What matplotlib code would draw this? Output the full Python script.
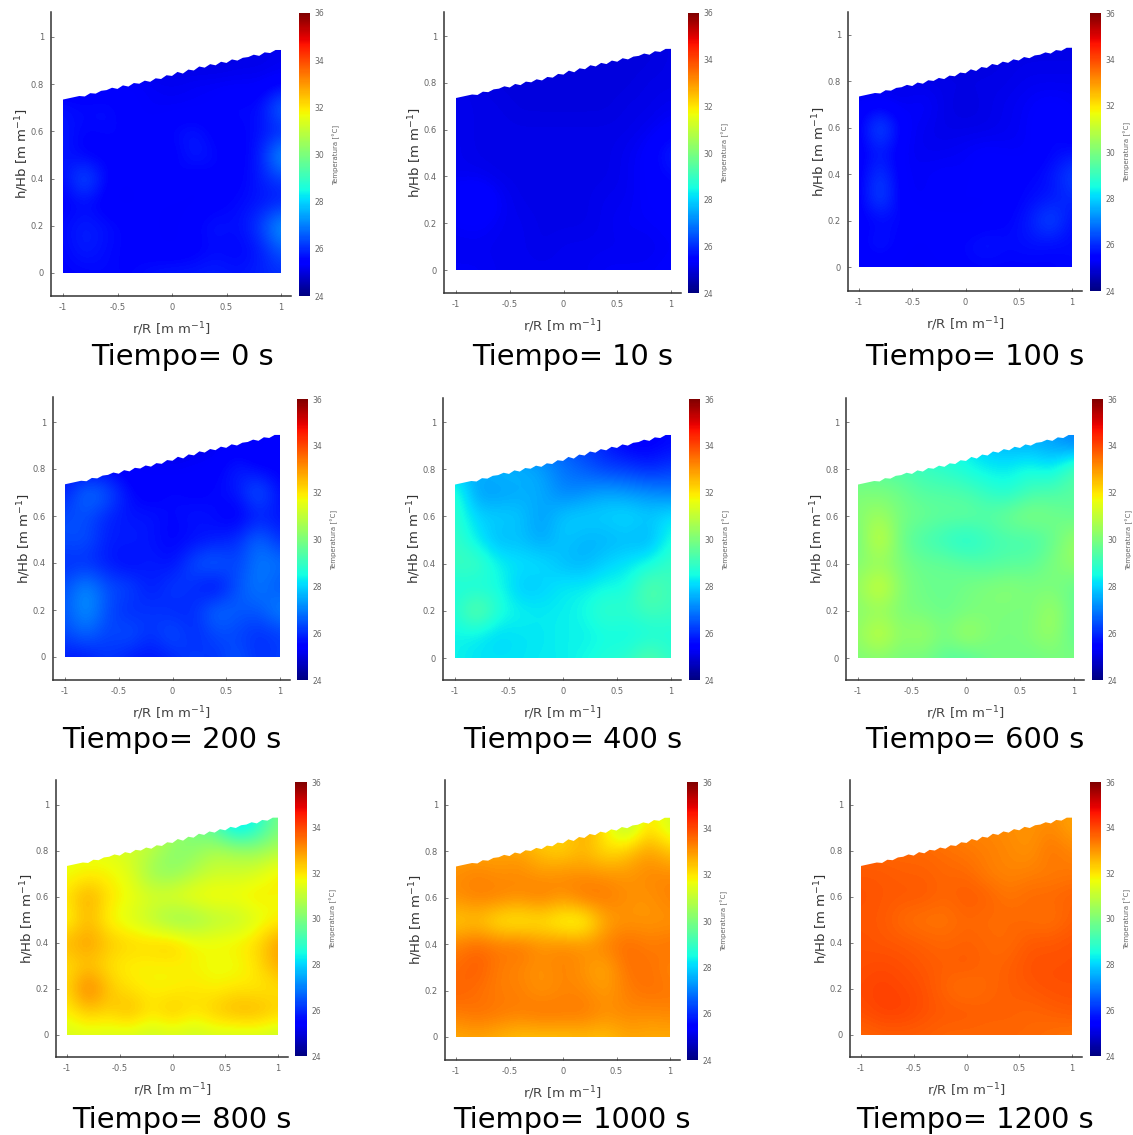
#!/usr/bin/env python3
# temperature maps h/Hb vs r/R at nine times
import numpy as np
import matplotlib
matplotlib.use('Agg')
import matplotlib.pyplot as plt
from matplotlib.path import Path
from matplotlib.patches import PathPatch

W, H = 1133, 1135

times = [0, 10, 100, 200, 400, 600, 800, 1000, 1200]

# columns r/R = -1 ... 1 step 0.2, rows h/Hb = 0.9 ... 0 step -0.1
r_grid = [-1, -0.8, -0.6, -0.4, -0.2, 0, 0.2, 0.4, 0.6, 0.8, 1]
h_grid = [0.9, 0.8, 0.7, 0.6, 0.5, 0.4, 0.3, 0.2, 0.1, 0.0]

# top edge of the measured area, a bit rough
r_edge = [-1, -0.95, -0.9, -0.85, -0.8, -0.75, -0.7, -0.65, -0.6, -0.55, -0.5, -0.45, -0.4, -0.35, -0.3, -0.25, -0.2, -0.15, -0.1, -0.05, 0,
          0.05, 0.1, 0.15, 0.2, 0.25, 0.3, 0.35, 0.4, 0.45, 0.5, 0.55, 0.6, 0.65, 0.7, 0.75, 0.8, 0.85, 0.9, 0.95, 1]
h_edge = [0.735, 0.74, 0.745, 0.75, 0.748, 0.762, 0.76, 0.772, 0.775, 0.785, 0.78, 0.795, 0.79, 0.805, 0.802, 0.815, 0.81, 0.825, 0.822, 0.838, 0.835,
          0.852, 0.845, 0.862, 0.858, 0.875, 0.87, 0.885, 0.88, 0.895, 0.89, 0.905, 0.9, 0.912, 0.915, 0.925, 0.92, 0.935, 0.932, 0.945, 0.945]

t0 = [
 [25.0,25.0,25.0,25.0,25.0,25.0,25.0,25.0,25.1,25.1,25.2],
 [25.3,25.3,25.3,25.4,25.3,25.2,25.3,25.3,25.3,25.3,25.4],
 [25.7,25.6,25.7,25.4,25.3,25.3,25.3,25.4,25.7,25.5,27.0],
 [25.8,25.5,25.6,25.5,25.4,25.6,25.8,25.4,25.4,25.7,25.8],
 [25.8,25.4,25.4,25.6,25.6,25.3,25.9,25.6,25.4,25.7,27.6],
 [25.5,26.8,25.5,25.3,25.5,25.7,25.3,25.5,25.4,25.8,26.2],
 [25.4,25.6,25.3,25.3,25.4,25.3,25.3,25.4,25.6,25.7,25.8],
 [25.6,25.9,25.7,25.5,25.4,25.3,25.5,25.8,25.6,26.2,27.6],
 [25.5,25.9,25.6,25.5,25.4,25.3,25.4,25.6,25.5,25.7,26.6],
 [25.5,25.5,25.6,25.5,25.7,25.8,25.8,25.9,25.7,25.9,26.0],
]
t10 = [
 [25.0,25.0,25.0,25.0,25.0,25.0,25.0,25.0,25.0,25.0,25.1],
 [25.1,25.1,25.0,25.0,25.0,25.0,25.0,25.0,25.0,25.1,25.1],
 [25.2,25.1,25.1,25.0,25.0,25.0,25.0,25.0,25.1,25.1,25.2],
 [25.2,25.1,25.1,25.1,25.1,25.1,25.1,25.1,25.1,25.2,25.4],
 [25.2,25.1,25.1,25.1,25.1,25.1,25.1,25.1,25.2,25.4,25.9],
 [25.2,25.2,25.1,25.1,25.1,25.1,25.1,25.1,25.2,25.4,25.6],
 [25.5,25.8,25.3,25.1,25.1,25.1,25.1,25.2,25.2,25.4,25.4],
 [25.3,25.4,25.2,25.2,25.1,25.1,25.1,25.2,25.3,25.3,25.4],
 [25.2,25.2,25.2,25.2,25.1,25.2,25.2,25.2,25.2,25.2,25.3],
 [25.3,25.3,25.2,25.2,25.2,25.2,25.2,25.3,25.3,25.3,25.4],
]
t100 = [
 [25.0,25.0,25.0,25.0,25.0,25.0,25.0,25.1,25.1,25.1,25.1],
 [25.2,25.2,25.1,25.1,25.1,25.1,25.1,25.1,25.2,25.2,25.2],
 [25.3,25.3,25.2,25.4,25.1,25.0,25.1,25.2,25.3,25.4,25.3],
 [25.3,26.8,25.4,25.2,25.1,25.1,25.1,25.2,25.3,25.7,25.3],
 [25.3,25.8,25.3,25.2,25.2,25.3,25.4,25.3,25.3,25.5,25.6],
 [25.3,26.3,25.3,25.3,25.4,25.3,25.5,25.5,25.5,25.7,26.4],
 [25.3,26.6,25.3,25.3,25.3,25.4,25.3,25.4,25.6,25.7,26.0],
 [25.4,25.5,25.6,25.4,25.4,25.3,25.4,25.5,25.8,26.6,25.6],
 [25.4,25.9,25.4,25.3,25.5,25.6,25.8,25.6,25.7,25.6,25.6],
 [25.3,25.3,25.3,25.3,25.3,25.5,25.5,25.5,25.5,25.5,25.6],
]
t200 = [
 [25.2,25.2,25.2,25.2,25.2,25.2,25.1,25.2,25.4,25.2,25.6],
 [25.7,25.5,25.5,25.3,25.4,25.2,25.4,25.4,25.9,25.5,25.4],
 [25.8,27.0,26.6,25.6,25.3,25.7,25.4,25.6,25.7,26.8,25.6],
 [26.4,26.4,25.9,25.7,25.8,25.5,25.8,25.6,25.3,25.8,25.7],
 [26.4,26.5,25.8,25.9,25.7,25.5,25.6,25.8,26.0,26.9,26.0],
 [26.0,26.0,25.8,25.5,25.9,25.6,26.5,26.8,26.2,27.0,26.9],
 [26.4,27.3,26.4,26.4,25.7,26.3,26.0,25.4,26.5,27.0,26.4],
 [26.5,27.4,26.4,25.9,26.2,25.9,26.0,26.9,26.6,26.5,27.2],
 [26.3,26.8,26.2,26.6,26.0,26.6,25.9,26.4,26.3,26.0,26.2],
 [25.8,25.7,26.2,25.8,25.7,25.9,26.3,26.0,26.6,26.0,26.3],
]
t400 = [
 [26.8,26.8,26.8,26.8,26.8,26.5,26.2,25.8,25.4,25.4,25.6],
 [27.8,27.6,27.8,27.7,27.4,26.9,26.6,26.2,26.2,25.9,26.2],
 [28.9,27.3,27.3,27.5,27.6,27.0,27.2,27.5,27.3,27.2,27.0],
 [28.9,28.0,28.0,27.9,27.3,27.9,28.0,28.0,28.2,27.9,28.2],
 [29.0,28.3,27.6,27.8,27.4,27.9,27.6,27.6,27.7,27.5,28.6],
 [29.0,29.2,28.4,28.2,28.2,27.7,27.6,28.0,28.2,28.5,29.0],
 [28.6,28.4,28.6,27.8,27.9,28.3,28.3,28.5,28.5,29.6,29.0],
 [28.6,29.9,28.7,28.4,28.3,28.3,28.5,29.0,28.8,29.2,29.0],
 [28.4,28.3,28.0,28.2,28.2,28.4,28.3,28.5,28.4,28.5,28.6],
 [28.4,28.2,28.2,28.2,28.3,28.3,28.5,28.7,28.8,29.6,28.8],
]
t600 = [
 [28.8,28.8,28.8,28.6,28.6,28.3,27.8,27.6,27.6,27.4,27.0],
 [29.6,29.4,29.3,29.0,28.8,28.5,28.3,28.3,28.6,28.2,29.4],
 [30.0,30.0,29.8,29.4,29.4,29.3,28.9,28.6,29.2,29.3,29.5],
 [30.1,30.6,29.9,29.8,29.6,29.7,29.5,29.9,30.2,29.9,29.6],
 [29.7,31.4,29.7,29.2,28.9,28.5,29.0,29.2,29.1,29.6,30.5],
 [30.1,30.3,30.0,29.7,29.7,29.5,29.3,29.5,29.5,30.0,30.4],
 [30.3,31.5,30.1,29.8,29.7,29.9,30.1,30.2,30.0,30.0,29.6],
 [30.1,30.3,30.0,29.9,29.7,29.9,30.0,30.0,29.9,30.6,29.6],
 [30.3,31.3,30.2,30.6,29.9,30.7,30.1,29.9,30.1,30.5,29.5],
 [30.0,30.1,29.9,29.9,29.5,29.3,29.8,29.9,29.8,29.9,30.0],
]
t800 = [
 [31.2,31.2,31.2,31.2,31.2,30.6,29.9,29.4,27.8,28.6,30.0],
 [31.6,31.6,31.5,31.2,30.9,30.2,30.2,30.8,30.6,30.4,30.8],
 [31.6,31.8,31.8,31.5,30.4,30.2,30.8,31.2,31.2,31.4,32.0],
 [32.0,32.9,32.0,31.7,31.4,31.6,31.8,31.9,31.8,32.0,31.7],
 [31.6,32.6,31.7,31.4,30.9,30.2,30.3,30.8,30.9,31.4,31.8],
 [32.6,33.0,32.4,32.2,32.2,32.4,31.8,31.8,31.9,32.1,33.0],
 [32.0,32.4,32.0,31.8,31.8,31.8,31.8,31.6,31.6,32.0,32.8],
 [32.1,33.6,32.4,32.0,31.8,31.8,32.0,31.8,32.0,31.9,32.0],
 [31.8,32.4,32.2,32.7,32.0,32.5,32.0,32.4,32.7,32.7,32.3],
 [31.3,31.4,31.3,31.3,31.1,31.3,31.1,31.3,31.2,31.3,31.1],
]
t1000 = [
 [32.6,32.6,32.6,32.4,32.2,32.2,32.9,31.9,30.6,32.2,31.2],
 [32.8,32.8,32.8,32.9,32.4,32.2,32.6,32.0,32.4,33.0,32.4],
 [33.1,33.3,33.1,33.2,33.0,33.2,33.1,33.1,33.0,33.2,33.2],
 [33.1,33.3,33.3,33.1,33.4,33.0,33.5,33.4,33.1,33.0,33.3],
 [32.2,32.4,31.8,31.7,31.9,31.5,31.4,32.8,33.0,33.0,33.0],
 [33.3,33.6,33.4,33.5,33.1,33.2,33.1,33.3,33.6,33.3,33.5],
 [33.5,33.8,33.3,33.2,33.0,33.3,33.0,32.7,33.5,33.5,33.2],
 [33.7,33.5,33.3,33.3,33.0,33.2,33.2,32.9,33.3,33.5,33.4],
 [33.3,33.5,33.4,33.3,33.5,33.4,33.4,33.1,33.2,33.1,33.2],
 [32.7,32.8,32.6,32.4,32.4,32.4,32.5,32.4,32.8,32.7,32.7],
]
t1200 = [
 [33.4,33.4,33.4,33.4,33.3,33.2,33.2,33.1,33.0,33.2,32.8],
 [33.6,33.6,33.6,33.6,33.5,33.4,33.3,33.2,33.0,33.5,33.2],
 [33.8,33.8,33.7,33.7,33.6,33.6,33.3,33.2,33.3,33.3,33.4],
 [33.9,33.8,33.8,33.8,33.6,33.8,33.7,33.4,33.6,33.6,33.7],
 [33.8,33.8,33.5,33.4,33.4,33.6,33.5,33.6,33.5,33.4,33.7],
 [33.9,33.8,33.8,33.7,33.6,33.7,33.6,33.5,33.8,33.8,33.9],
 [33.9,34.0,33.9,33.8,33.7,33.8,33.6,33.7,33.9,33.9,33.9],
 [34.0,34.1,34.0,33.9,33.6,33.4,33.6,33.7,33.8,33.9,33.9],
 [33.9,34.1,34.1,33.9,33.8,33.8,33.7,33.7,33.6,33.7,33.8],
 [33.6,33.7,33.7,33.7,33.6,33.6,33.6,33.6,33.6,33.5,33.4],
]
temps = [t0, t10, t100, t200, t400, t600, t800, t1000, t1200]

# layout in pixels of the source: spine, x(-1), x(1), y(0), y(1), bottom, top, cbar left, cbar right, cbar top, cbar bottom, title x, title y
layout = [
 (51, 63, 281, 273, 37, 296, 12, 299, 310, 13, 296, 182, 357),
 (444, 456, 671, 270, 36, 293, 12, 688, 699, 13, 293, 573, 357),
 (848, 859, 1072, 267, 35, 291, 12, 1090, 1101, 13, 291, 975, 357),
 (53, 65, 280, 657, 422, 680, 397, 297, 308, 399, 680, 172, 740),
 (443, 455, 671, 658, 422, 680, 398, 689, 700, 399, 680, 573, 740),
 (846, 858, 1074, 658, 422, 680, 398, 1092, 1103, 399, 680, 975, 740),
 (56, 67, 278, 1035, 805, 1057, 780, 295, 307, 782, 1056, 182, 1120),
 (445, 456, 670, 1037, 805, 1060, 780, 687, 698, 782, 1060, 572, 1120),
 (850, 861, 1072, 1035, 805, 1057, 780, 1090, 1101, 782, 1056, 975, 1120),
]

grey = '#666666'
fig = plt.figure(figsize=(W / 100, H / 100), dpi=100)
plt.rcParams['mathtext.default'] = 'regular'

for i, t in enumerate(times):
    sp, xm, xp, y0, y1, bot, top, cl, cr, ct, cb, tx, ty = layout[i]
    right = xp + 10
    ax = fig.add_axes([sp / W, 1 - bot / H, (right - sp) / W, (bot - top) / H])
    sx = (xp - xm) / 2
    sy = y0 - y1
    ax.set_xlim(-1 - (xm - sp) / sx, 1 + (right - xp) / sx)
    ax.set_ylim(-(bot - y0) / sy, (y0 - top) / sy)

    # rows are written top down, imshow wants them bottom up
    z = np.array(temps[i])[::-1]
    dr = r_grid[1] - r_grid[0]
    dh = h_grid[0] - h_grid[1]
    im = ax.imshow(z, origin='lower', cmap='jet', vmin=24, vmax=36, aspect='auto', interpolation='bicubic',
                   extent=[r_grid[0] - dr / 2, r_grid[-1] + dr / 2, h_grid[-1] - dh / 2, h_grid[0] + dh / 2])
    verts = [(-1, 0)] + list(zip(r_edge, h_edge)) + [(1, 0), (-1, 0)]
    clip = PathPatch(Path(verts), transform=ax.transData, fc='none', ec='none')
    ax.add_patch(clip)
    im.set_clip_path(clip)

    for s in ['top', 'right']:
        ax.spines[s].set_visible(False)
    for s in ['left', 'bottom']:
        ax.spines[s].set_color('#333333')
        ax.spines[s].set_linewidth(1.1)
    ax.set_xticks([-1, -0.5, 0, 0.5, 1])
    ax.set_xticklabels(['-1', '-0.5', '0', '0.5', '1'])
    ax.set_yticks([0, 0.2, 0.4, 0.6, 0.8, 1])
    ax.set_yticklabels(['0', '0.2', '0.4', '0.6', '0.8', '1'])
    ax.tick_params(direction='in', length=2, width=0.6, color=grey, labelcolor=grey, labelsize=6, pad=5)
    ax.set_xlabel('r/R [m m$^{-1}$]', fontsize=9.5, color='#444444', labelpad=6)
    ax.set_ylabel('h/Hb [m m$^{-1}$]', fontsize=9.5, color='#333333', labelpad=0)

    cax = fig.add_axes([cl / W, 1 - cb / H, (cr - cl) / W, (cb - ct) / H])
    cbar = fig.colorbar(im, cax=cax, ticks=[24, 26, 28, 30, 32, 34, 36])
    cbar.outline.set_visible(False)
    cax.tick_params(length=0, labelsize=5.5, labelcolor=grey, pad=3)
    cbar.set_label('Temperatura [°C]', fontsize=5, color=grey, labelpad=6)

    fig.text(tx / W, 1 - ty / H, 'Tiempo= %d s' % t, fontsize=20.8, color='black', ha='center', va='center')

plt.savefig('out.png', dpi=100)
